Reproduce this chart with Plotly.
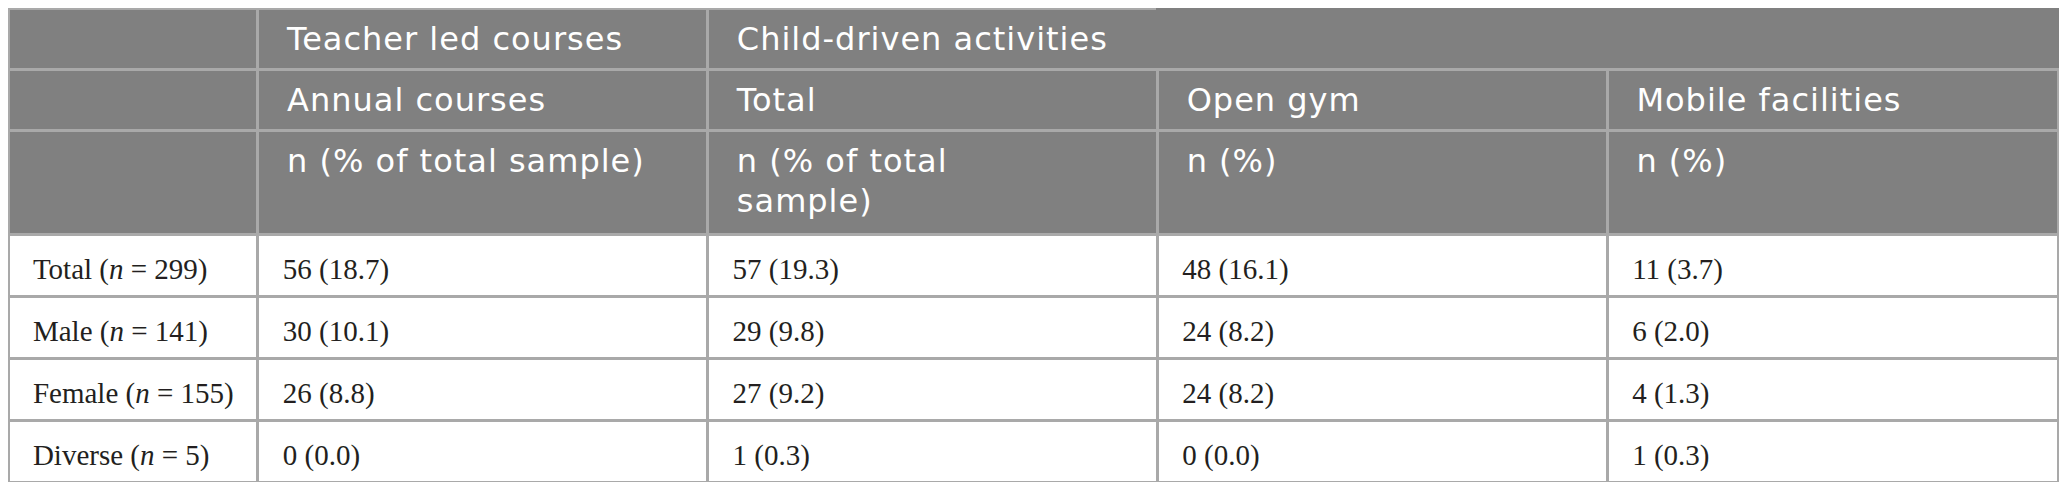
import plotly.graph_objects as go

# groups (rows)
group_names = ["Total", "Male", "Female", "Diverse"]
group_n = [299, 141, 155, 5]

# teacher led courses
annual_n = [56, 30, 26, 0]
annual_pct = [18.7, 10.1, 8.8, 0.0]

# child-driven activities
child_total_n = [57, 29, 27, 1]
child_total_pct = [19.3, 9.8, 9.2, 0.3]
open_gym_n = [48, 24, 24, 0]
open_gym_pct = [16.1, 8.2, 8.2, 0.0]
mobile_n = [11, 6, 4, 1]
mobile_pct = [3.7, 2.0, 1.3, 0.3]

# header rows
header_top = ["", "Teacher led courses", "Child-driven activities", "", ""]
header_mid = ["", "Annual courses", "Total", "Open gym", "Mobile facilities"]
header_unit = ["", ["n (% of total sample)"], ["n (% of total", "sample)"], ["n (%)"], ["n (%)"]]

HEAD_FILL = "#808080"
LINE = "#a9a9a9"
PAD = "\u2002\u200a"
NB = "\u00a0"

# plotly tables top-align text; a first line holding a small nbsp (base font) pushes the
# real text (bigger span) down so it sits in the middle of the row
HEAD_BASE, HEAD_SIZE = 15.4, 32
BODY_BASE, BODY_SIZE = 16.9, 29


def head_txt(lines):
    if isinstance(lines, str):
        lines = [lines] if lines else []
    if not lines:
        return ""
    span = "<span style='font-size:%spx;letter-spacing:1px'>%s</span>"
    return NB + "<br>" + "<br><br>".join(span % (HEAD_SIZE, PAD + s) for s in lines)


def body_txt(s):
    return NB + "<br><span style='font-size:%spx'>%s</span>" % (BODY_SIZE, PAD + s)


def fmt(ns, pcts):
    return [body_txt(f"{n} ({p:.1f})") for n, p in zip(ns, pcts)]


first_col = [body_txt(f"{g} (<i>n</i> = {n})") for g, n in zip(group_names, group_n)]
body = [
    first_col,
    fmt(annual_n, annual_pct),
    fmt(child_total_n, child_total_pct),
    fmt(open_gym_n, open_gym_pct),
    fmt(mobile_n, mobile_pct),
]
header = [[head_txt(a), head_txt(b), head_txt(c)] for a, b, c in zip(header_top, header_mid, header_unit)]
# invisible spacer in the first column sets the height of the third header row
header[0][2] = "<br><span style='font-size:75px'>" + NB + "</span>"

# "Child-driven activities" spans the last three columns: hide the inner borders of that top cell
head_lines = [[LINE, LINE, LINE], [LINE, LINE, LINE], [LINE, LINE, LINE],
              [HEAD_FILL, LINE, LINE], [HEAD_FILL, LINE, LINE]]

fig = go.Figure(go.Table(
    columnwidth=[250, 450, 450, 450, 452],
    domain=dict(x=[0, 1], y=[0, 1]),
    header=dict(
        values=header,
        fill_color=HEAD_FILL,
        line=dict(color=head_lines, width=3),
        align="left",
        height=61,
        font=dict(family="DejaVu Sans", size=HEAD_BASE, color="white"),
    ),
    cells=dict(
        values=body,
        fill_color="white",
        line=dict(color=LINE, width=3),
        align="left",
        height=62,
        font=dict(family="Liberation Serif", size=BODY_BASE, color="#231f20"),
    ),
))

# the page body keeps an 8px margin, so the figure is 16px smaller than the window
fig.update_layout(
    width=2051,
    height=474,
    margin=dict(l=0, r=0, t=0, b=0),
    paper_bgcolor="white",
)

fig.write_html("out.html")
